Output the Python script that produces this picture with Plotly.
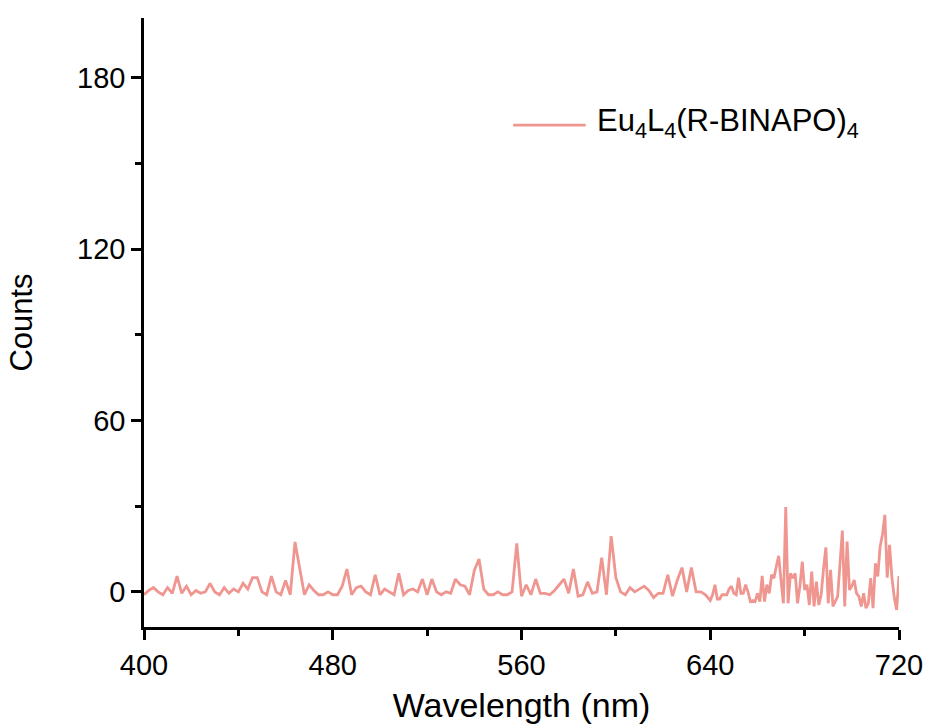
import plotly.graph_objects as go

# Wavelength grid (nm): 2 nm steps to 638, then 1 nm steps to 720
wavelength = list(range(400, 640, 2)) + list(range(640, 721, 1))

counts = [
    # 400 - 438
    -1, 0.5, 1.5, 0, -1, 1.5, -0.5, 5.5, -0.5, 2,
    -1, 0.5, -0.5, 0, 3, 0, -1, 1.5, -0.5, 1,
    # 440 - 478
    0, 3, 1, 5, 5, 0, -1, 5.5, 0, -1,
    4, -1, 17.5, 8, -1, 2.5, 0.5, -1, -1, 0,
    # 480 - 518
    -1, -1, 2, 8, -1, 1.5, 2, 0, -1, 6,
    -1, 1, 0, -1, 6.5, -1, 0.5, 1, 0, 4.5,
    # 520 - 558
    -1, 4.5, 0, -1, 0, -0.5, 4.5, 2.5, 2, -1,
    7.5, 11.5, 1, -1, -1, 0, -1, -1, 0, 17,
    # 560 - 598
    -1.5, 2.5, -1, 4.5, -0.5, -0.5, -1, 0.5, 2.5, 4.5,
    -0.5, 8, -1.5, -1, 3.5, -0.5, 0, 12, -1, 19.5,
    # 600 - 638
    5, 0, -1, 1.5, 0, 1, 2, 0.5, -2, -0.5,
    -0.5, 6, -1.5, 4, 8.5, 0, 8.5, 0, 0, -1,
    # 640 - 649
    -3, -1, 2.5, -2.5, -2.5, -1, -1, -1, 1, 2,
    # 650 - 659
    -0.5, -1, 5, -0.5, -0.5, 2.5, 0, -3.4, -3, -3.4,
    # 660 - 669
    -0.5, -3.4, 5.6, -3.4, 2.5, -0.5, 6, 4.8, 9, 12.6,
    # 670 - 679
    4, -4, 29.7, -4, 6.5, 4.8, 6.5, -4, 2, 10.6,
    # 680 - 689
    0.7, 2.5, -4.6, 7.1, -5.1, 3.6, -4.6, -1, 8, 15.6,
    # 690 - 699
    -4, 7.7, -5.1, -3, -1.6, 10, 21.5, -5.1, 17.6, 0.7,
    # 700 - 709
    2, 4.2, -0.5, -1.6, -5.1, -0.5, -5.7, -4, 4.8, -5.7,
    # 710 - 720
    10, 5.4, 15.9, 20, 27, 5, 16.5, 5, -2, -6.3, 5.6,
]

series_name = "Eu<sub>4</sub>L<sub>4</sub>(R-BINAPO)<sub>4</sub>"
x_ticks = [400, 480, 560, 640, 720]
y_ticks = [0, 60, 120, 180]

LINE_COLOR = "rgb(240,150,144)"
FONT = "Liberation Sans, Arial, sans-serif"

fig = go.Figure()
fig.add_trace(go.Scatter(
    x=wavelength, y=counts, mode="lines",
    line=dict(color=LINE_COLOR, width=2.8),
    name=series_name, showlegend=False,
))

axis_common = dict(
    showline=True, linecolor="black", linewidth=2.5,
    ticks="outside", ticklen=10, tickwidth=2.5, tickcolor="black",
    showgrid=False, zeroline=False, mirror=False, automargin=False,
    tickfont=dict(family=FONT, size=29, color="black"),
)

fig.update_xaxes(
    range=[400, 720], tickvals=x_ticks,
    title=dict(text="Wavelength (nm)", standoff=14,
               font=dict(family=FONT, size=34, color="black")),
    minor=dict(ticks="outside", ticklen=6, tickwidth=2.5, tickcolor="black", dtick=40, tick0=400),
    **axis_common,
)
fig.update_yaxes(
    range=[-12.3, 201], tickvals=y_ticks,
    title=dict(text="Counts", standoff=36,
               font=dict(family=FONT, size=31, color="black")),
    minor=dict(ticks="outside", ticklen=6, tickwidth=2.5, tickcolor="black", dtick=30, tick0=0),
    **axis_common,
)

# Legend drawn as a line sample plus label (long sample line as in the reference)
leg_y = 0.824
fig.add_shape(type="line", xref="paper", yref="paper",
              x0=0.489, x1=0.585, y0=leg_y, y1=leg_y,
              line=dict(color=LINE_COLOR, width=2.8))
fig.add_annotation(xref="paper", yref="paper", x=0.597, y=leg_y + 0.003,
                   xanchor="left", yanchor="middle", showarrow=False,
                   text=series_name,
                   font=dict(family=FONT, size=31, color="black"))

fig.update_layout(
    width=928, height=724,
    margin=dict(l=144, r=29, t=18, b=97),
    plot_bgcolor="white", paper_bgcolor="white",
    showlegend=False,
    font=dict(family=FONT),
)

fig.write_html("out.html")
